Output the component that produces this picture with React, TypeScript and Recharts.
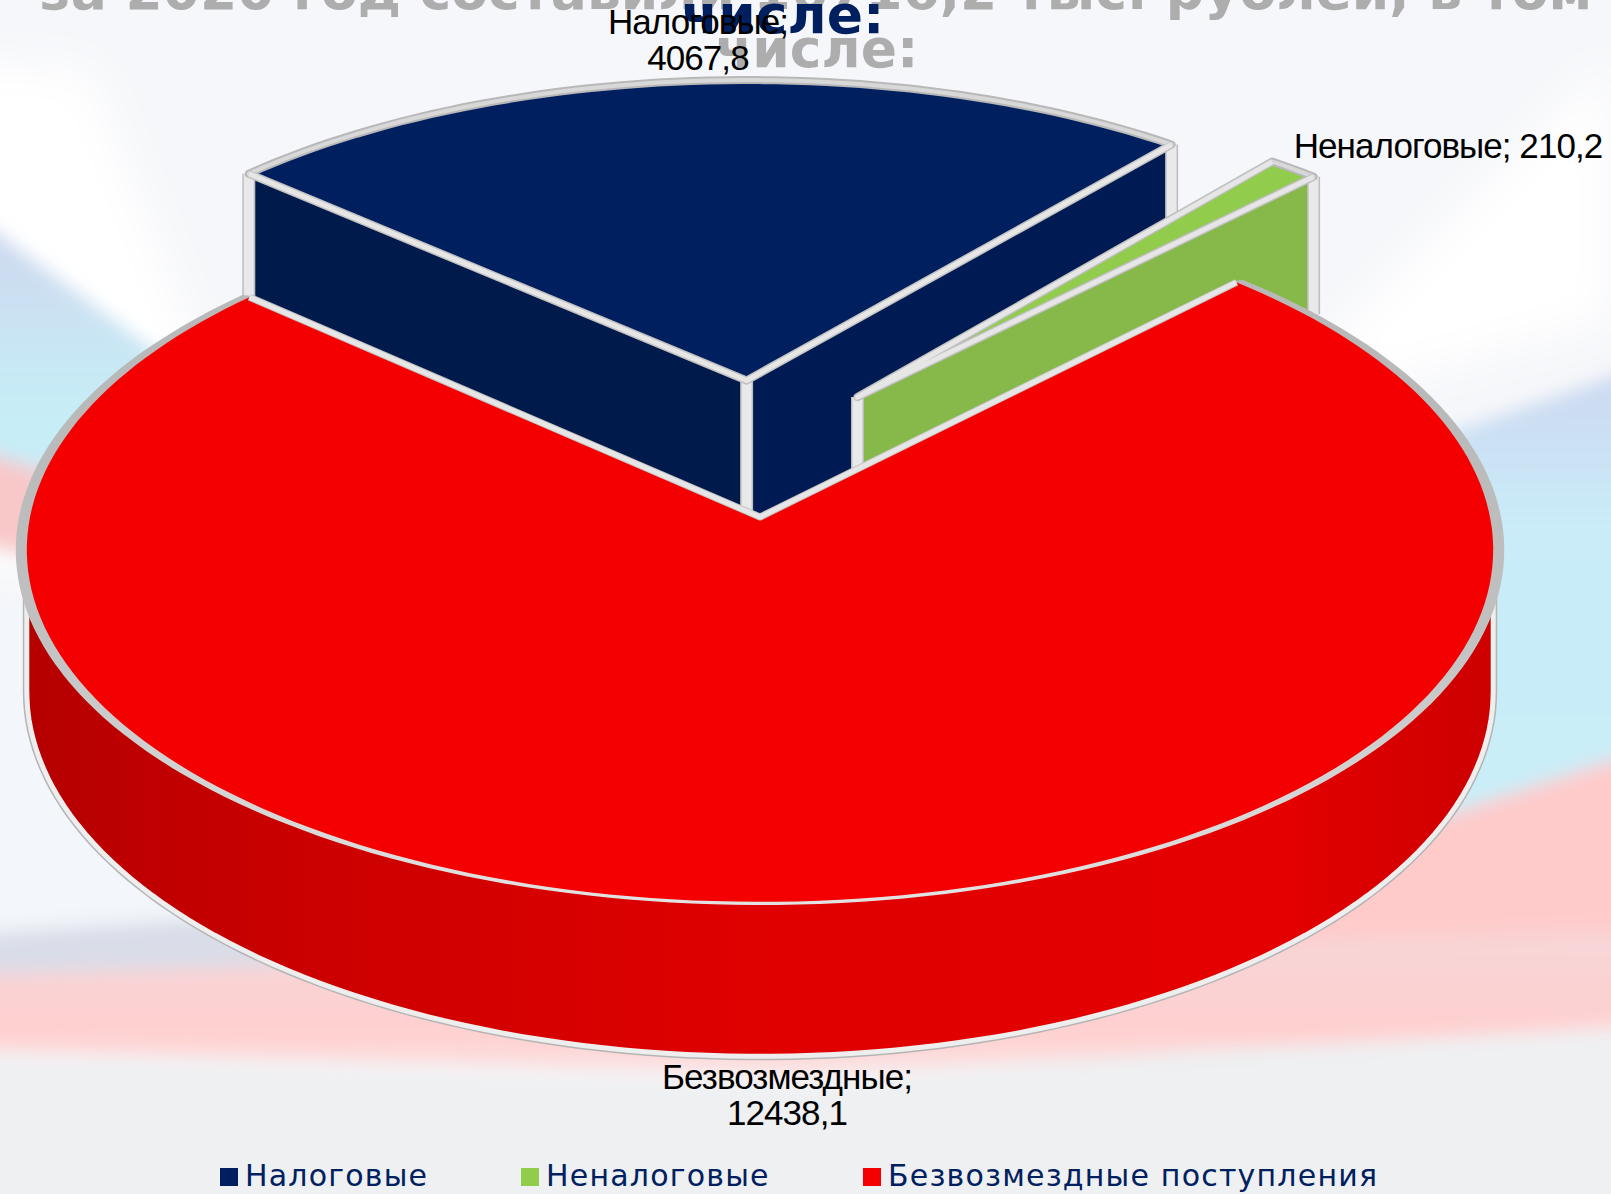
import { Legend, Pie, PieChart, Cell } from "recharts";

const categories = ["Налоговые", "Неналоговые", "Безвозмездные поступления"];
const labelNames = ["Налоговые", "Неналоговые", "Безвозмездные"];
const values = [4067.8, 210.2, 12438.1];
const titleLines = ["за 2020 год составили 16716,2 тыс. рублей, в том", "числе:"];

const chartData = categories.map((name, i) => ({ name, label: labelNames[i], value: values[i] }));

const W = 1611;
const H = 1194;

// look of each slice
const topColors = ["#001f5f", "#92cc4d", "#f40000"];
const wallColors = ["#001b54", "#86b94a", "#e00000"];
const leftWallColors = ["#001a4c", "#86b94a", "#c00000"];
// how far a slice is pulled out of the pie, in radius units
const explode = [
  [-0.019, 0.406],
  [0.138, 0.355],
  [0, 0],
];
const sliceScale = [1.012, 1, 1];
const depthScale = [1.12, 1.08, 1];

// fake 3d: flat disc seen from above with a little perspective
const SQUASH = 0.478;
const PERSP = 0.0933;
const DEPTH = 140;

function project(cx: number, cy: number, r: number, X: number, Y: number, dz = 0) {
  const w = 1 + PERSP * Y;
  return [cx + (r * X) / w, cy - (r * SQUASH * Y) / w + (DEPTH * dz) / w];
}

function arcPoints(cx: number, cy: number, r: number, from: number, to: number, ox: number, oy: number, dz = 0, sx = 1, sy = 1) {
  const pts: number[][] = [];
  const n = Math.max(2, Math.ceil(Math.abs(to - from) / 1.5));
  for (let i = 0; i <= n; i++) {
    const t = ((from + ((to - from) * i) / n) * Math.PI) / 180;
    pts.push(project(cx, cy, r, ox + Math.sin(t) * sx, oy + Math.cos(t) * sy, dz));
  }
  return pts;
}

const toPath = (pts: number[][], close = true) =>
  "M" + pts.map((p) => p[0].toFixed(1) + "," + p[1].toFixed(1)).join("L") + (close ? "Z" : "");

function Slice3D(props: any) {
  const { cx, cy, outerRadius, startAngle, endAngle, index } = props;
  const from = 90 - startAngle;
  const to = 90 - endAngle;
  const [ox, oy] = explode[index];
  const s = sliceScale[index];
  const dz = depthScale[index];
  const rad = (a: number) => (a * Math.PI) / 180;
  const centerTop = project(cx, cy, outerRadius, ox, oy, 0);
  const centerBot = project(cx, cy, outerRadius, ox, oy, dz);
  const top = arcPoints(cx, cy, outerRadius, from, to, ox, oy, 0, s, s);
  const facePath = toPath([centerTop, ...top]);
  const radialEdges = toPath([top[top.length - 1], centerTop, top[0]], false);

  const walls: any[] = [];
  const bars: number[][][] = [];
  const radialWall = (a: number, color: string) => {
    const p = arcPoints(cx, cy, outerRadius, a, a, ox, oy, 0, s, s)[0];
    const q = arcPoints(cx, cy, outerRadius, a, a, ox, oy, dz, s, s)[0];
    walls.push(<path key={"w" + a} d={toPath([centerTop, p, q, centerBot])} fill={color} />);
    bars.push([p, q]);
  };
  // a cut face shows only when it turns towards the viewer
  if (Math.sin(rad(from)) < 0 && to - from < 180) radialWall(from, leftWallColors[index]);
  if (Math.sin(rad(to)) > 0 && to - from < 180) radialWall(to, wallColors[index]);
  if (walls.length) bars.push([centerTop, centerBot]);

  // the round outer wall, front half only
  const wallFrom = Math.max(from, 95.4);
  const wallTo = Math.min(to, 264.6);
  let roundWall = null;
  let rim = null;
  if (wallTo > wallFrom) {
    const a = arcPoints(cx, cy, outerRadius, wallFrom, wallTo, ox, oy);
    const b = arcPoints(cx, cy, outerRadius, wallFrom, wallTo, ox, oy, 1);
    const d = toPath([...a, ...b.reverse()]);
    roundWall = (
      <g>
        <path d={d} fill="none" stroke="#b4b4b4" strokeWidth={8} strokeLinejoin="round" />
        <path d={d} fill="url(#redWall)" stroke="#eeeeee" strokeWidth={5} strokeLinejoin="round" />
      </g>
    );
    // gray band round the top, wider at the sides than at the front
    const outer = arcPoints(cx, cy, outerRadius, from, to, ox, oy, 0, 1.013, 1.004);
    const ring = toPath([...outer, ...[...top].reverse()]);
    rim = <path d={ring} fill="url(#rimShade)" stroke="url(#rimShade)" strokeWidth={3} strokeLinejoin="round" />;
  }

  return (
    <g>
      {roundWall}
      {walls}
      {bars.map((b, i) => (
        <g key={i}>
          <path d={toPath(b, false)} stroke="#bdbdbd" strokeWidth={13} fill="none" />
          <path d={toPath(b, false)} stroke="#e9e9e9" strokeWidth={10} fill="none" />
        </g>
      ))}
      {rim}
      {rim ? (
        <path d={facePath} fill={topColors[index]} />
      ) : (
        <g>
          <path d={facePath} fill={topColors[index]} stroke="#b8b8b8" strokeWidth={8} strokeLinejoin="round" />
          <path d={facePath} fill="none" stroke="#d8d8d8" strokeWidth={4} strokeLinejoin="round" />
        </g>
      )}
      <path d={radialEdges} fill="none" stroke="#c4c4c4" strokeWidth={7} strokeLinejoin="round" />
      <path d={radialEdges} fill="none" stroke="#e6e6e6" strokeWidth={5} strokeLinejoin="round" />
    </g>
  );
}

function renderLabel(props: any) {
  const i = props.index;
  const val = String(values[i]).replace(".", ",");
  const style = { fontFamily: "'Liberation Sans'", fontSize: 35, letterSpacing: -0.95, fill: "#000" };
  if (i === 1) {
    return (
      <text x={1448} y={158} textAnchor="middle" style={style}>
        {labelNames[i] + "; " + val}
      </text>
    );
  }
  const x = i === 0 ? 698 : 787;
  const y = i === 0 ? 34 : 1089;
  return (
    <text textAnchor="middle" style={style}>
      <tspan x={x} y={y}>{labelNames[i] + ";"}</tspan>
      <tspan x={x} y={y + 36}>{val}</tspan>
    </text>
  );
}

const legendLeft = [220, 521, 863];

function renderLegend(props: any) {
  return (
    <div style={{ position: "relative", height: 34, width: W }}>
      {props.payload.map((p: any, i: number) => (
        <div key={i} style={{ position: "absolute", left: legendLeft[i], top: 0, whiteSpace: "nowrap", color: "#00205f", fontFamily: "'DejaVu Sans'", fontSize: 30, letterSpacing: 1.2, lineHeight: "34px" }}>
          <span style={{ display: "inline-block", width: 18, height: 18, background: topColors[i], marginRight: 7 }} />
          {p.value}
        </div>
      ))}
    </div>
  );
}

function Background() {
  return (
    <svg width={W} height={H} style={{ position: "absolute", left: 0, top: 0 }}>
      <defs>
        <filter id="soft" x="-20%" y="-20%" width="140%" height="140%">
          <feGaussianBlur stdDeviation="9" />
        </filter>
        <filter id="softer" x="-20%" y="-20%" width="140%" height="140%">
          <feGaussianBlur stdDeviation="22" />
        </filter>
        <linearGradient id="skyL" x1="0" y1="0" x2="0" y2="1">
          <stop offset="0" stopColor="#cfd5ee" />
          <stop offset="0.55" stopColor="#c6ecf6" />
          <stop offset="1" stopColor="#cbeef8" />
        </linearGradient>
        <linearGradient id="skyR" x1="0" y1="0" x2="0" y2="1">
          <stop offset="0" stopColor="#cdd6f0" />
          <stop offset="0.35" stopColor="#c9ecf8" />
          <stop offset="1" stopColor="#c9eef8" />
        </linearGradient>
        <linearGradient id="pinkBand" x1="0" y1="0" x2="0" y2="1">
          <stop offset="0" stopColor="#f6d6d8" />
          <stop offset="0.7" stopColor="#ffcfcf" />
          <stop offset="1" stopColor="#fbe3e3" />
        </linearGradient>
      </defs>
      <rect width={W} height={H} fill="#f6f7fa" />
      <g filter="url(#softer)">
        <path d="M-40,60 L90,70 L280,560 L-40,560Z" fill="#ffffff" />
        <path d="M1611,60 L1250,420 L1611,320Z" fill="#ffffff" />
      </g>
      <g filter="url(#soft)">
        <path d="M-40,205 L300,460 L300,560 L-40,460Z" fill="url(#skyL)" />
        <path d="M-40,445 L200,520 L200,590 L-40,540Z" fill="#f8c8c9" />
        <path d="M-40,590 L260,640 L260,930 L-40,930Z" fill="#f3f6fa" />
        <path d="M1660,360 L1430,440 L1400,840 L1660,750Z" fill="url(#skyR)" />
        <path d="M1660,745 L1340,850 L1200,1020 L1660,1010Z" fill="#ffcaca" />
        <path d="M-40,935 L400,905 L500,1000 L-40,1000Z" fill="#d9dde8" />
        <path d="M-40,975 L500,960 L1660,930 L1660,1025 L800,1075 L-40,1050Z" fill="url(#pinkBand)" />
        <path d="M-40,1056 L800,1085 L1200,1050 L1660,1030 L1660,1240 L-40,1240Z" fill="#eef0f2" />
      </g>
      <g style={{ fontFamily: "'DejaVu Sans'", fontWeight: 700, fontSize: 53.5 }} textAnchor="middle">
        <text x={816} y={9} fill="#adadad">{titleLines[0]}</text>
        <text x={817} y={67} fill="#adadad">{titleLines[1]}</text>
        <text x={783} y={33} fill="#001f5f">{titleLines[1]}</text>
      </g>
    </svg>
  );
}

export default function App() {
  return (
    <div style={{ position: "absolute", left: 0, top: 0, width: W, height: H, overflow: "hidden" }}>
      <Background />
      <div style={{ position: "absolute", left: 0, top: 0 }}>
        <PieChart width={W} height={H} margin={{ top: 0, right: 0, bottom: 0, left: 0 }}>
          <defs>
            <linearGradient id="redWall" gradientUnits="userSpaceOnUse" x1="25" y1="0" x2="1500" y2="0">
              <stop offset="0" stopColor="#b50000" />
              <stop offset="0.2" stopColor="#cc0000" />
              <stop offset="0.5" stopColor="#e00000" />
              <stop offset="0.85" stopColor="#e40000" />
              <stop offset="1" stopColor="#cc0000" />
            </linearGradient>
            <linearGradient id="rimShade" gradientUnits="userSpaceOnUse" x1="0" y1="400" x2="0" y2="900">
              <stop offset="0" stopColor="#b9b9b9" />
              <stop offset="0.45" stopColor="#c0c0c0" />
              <stop offset="1" stopColor="#e2e2e2" />
            </linearGradient>
          </defs>
          <Pie
            data={chartData}
            dataKey="value"
            nameKey="name"
            cx={760}
            cy={517}
            innerRadius={0}
            outerRadius={730}
            startAngle={138}
            endAngle={-222}
            stroke="none"
            isAnimationActive={false}
            shape={Slice3D}
            label={renderLabel}
            labelLine={false}
          >
            {chartData.map((d, i) => (
              <Cell key={d.name} fill={topColors[i]} />
            ))}
          </Pie>
          <Legend content={renderLegend} itemSorter={null} wrapperStyle={{ position: "absolute", left: 0, top: 1159, width: W }} />
        </PieChart>
      </div>
    </div>
  );
}
